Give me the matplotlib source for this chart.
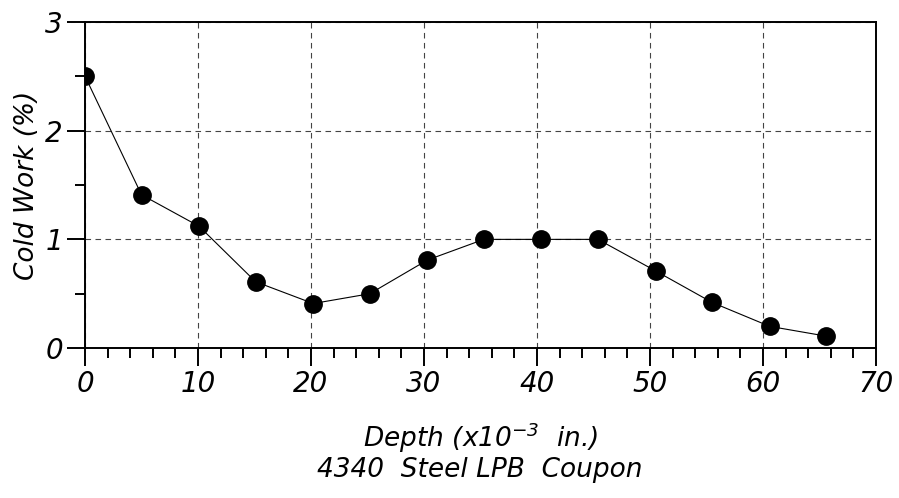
import matplotlib
matplotlib.use("Agg")
from matplotlib import pyplot as plt
from matplotlib.ticker import MultipleLocator

# data
depth = [0.0, 5.0, 10.1, 15.1, 20.2, 25.2, 30.3, 35.3, 40.4, 45.4, 50.5, 55.5, 60.6, 65.6]
cold_work = [2.50, 1.41, 1.12, 0.61, 0.41, 0.50, 0.81, 1.00, 1.00, 1.00, 0.71, 0.42, 0.20, 0.11]

x_ticks = [0, 10, 20, 30, 40, 50, 60, 70]
y_ticks = [0, 1, 2, 3]

plt.rcParams["font.family"] = "DejaVu Sans"
plt.rcParams["font.style"] = "italic"
plt.rcParams["mathtext.fontset"] = "custom"
plt.rcParams["mathtext.rm"] = "DejaVu Sans:italic"
plt.rcParams["mathtext.it"] = "DejaVu Sans:italic"

fig = plt.figure(figsize=(8.99, 4.98), dpi=100)
ax = fig.add_axes([0.0946, 0.301, 0.8797, 0.655])

ax.plot(depth, cold_work, "-", color="black", linewidth=0.8)
ax.plot(depth, cold_work, "o", color="black", markersize=12.5)

ax.set_xlim(0, 70)
ax.set_ylim(0, 3)
ax.set_xticks(x_ticks)
ax.set_yticks(y_ticks)
ax.xaxis.set_minor_locator(MultipleLocator(2))
ax.yaxis.set_minor_locator(MultipleLocator(0.5))
ax.tick_params(which="major", direction="out", length=13, width=1.4,
               labelsize=20, pad=3, colors="black")
ax.tick_params(which="minor", direction="out", length=7, width=1.4)

# dashed grid
ax.grid(True, which="major", linestyle=(0, (5, 4)), color="#444444", linewidth=0.8)
for s in ax.spines.values():
    s.set_linewidth(1.4)

ax.set_xlabel("Depth (x10$^{-3}$  in.)", fontsize=19, labelpad=16)
ax.set_ylabel("Cold Work (%)", fontsize=19, labelpad=4)
fig.text(0.534, 0.056, "4340  Steel LPB  Coupon", fontsize=19, ha="center", va="center")

fig.savefig("out.png", dpi=100)
